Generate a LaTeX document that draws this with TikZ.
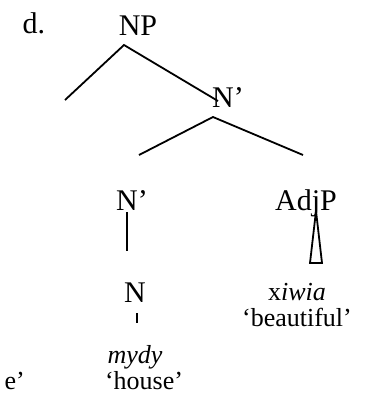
\documentclass[tikz,border=0pt]{standalone}
\usepackage{fontspec}
\setmainfont{Liberation Serif}

\begin{document}
\begin{tikzpicture}[
    x=1pt, y=-1pt,
    cat/.style={inner sep=0pt, anchor=base, font=\fontsize{30}{34}\selectfont},
    gloss/.style={inner sep=0pt, anchor=base, font=\fontsize{26}{30}\selectfont},
    branch/.style={line width=1.8pt}
]
\useasboundingbox (0,0) rectangle (367,418);

% ====================
% Etichette
% ====================
\node[cat] (ex) at (34, 33) {d.};
\node[cat] (NP) at (138, 35) {NP};
\node[cat] (Nbar1) at (228, 107) {N’};
\node[cat] (Nbar2) at (132, 210) {N’};
\node[cat] (AdjP) at (306, 210) {AdjP};
\node[cat] (N) at (135, 302) {N};

% Parole e glosse
\node[gloss] (xiwia) at (297, 300) {x\textit{iwia}};
\node[gloss] (beautiful) at (297, 326) {‘beautiful’};
\node[gloss] (mydy) at (135, 363) {\textit{mydy}};
\node[gloss] (house) at (144, 389) {‘house’};
\node[gloss, anchor=base east] (prev) at (25, 389) {e’};

% ====================
% Rami
% ====================
\coordinate (NPtop) at (124, 45);
\coordinate (NPleft) at (65, 100);
\coordinate (NPright) at (218, 101);
\draw[branch] (NPleft) -- (NPtop) -- (NPright);

\coordinate (Nbtop) at (213, 117);
\coordinate (Nbleft) at (139, 155);
\coordinate (Nbright) at (303, 155);
\draw[branch] (Nbleft) -- (Nbtop) -- (Nbright);

% N' -> N
\coordinate (Nbfoot) at (127, 251);
\draw[branch] (Nbar2.south -| Nbfoot) ++(0,2) -- (Nbfoot);

% N -> mydy
\coordinate (Ntop) at (137, 313);
\coordinate (Nfoot) at (137, 323);
\draw[branch] (Ntop) -- (Nfoot);

% Triangolo sotto AdjP
\coordinate (Tapex) at (316, 211);
\draw[branch, line join=miter] (Tapex) -- (310, 263) -- (322, 263) -- cycle;

\end{tikzpicture}
\end{document}
